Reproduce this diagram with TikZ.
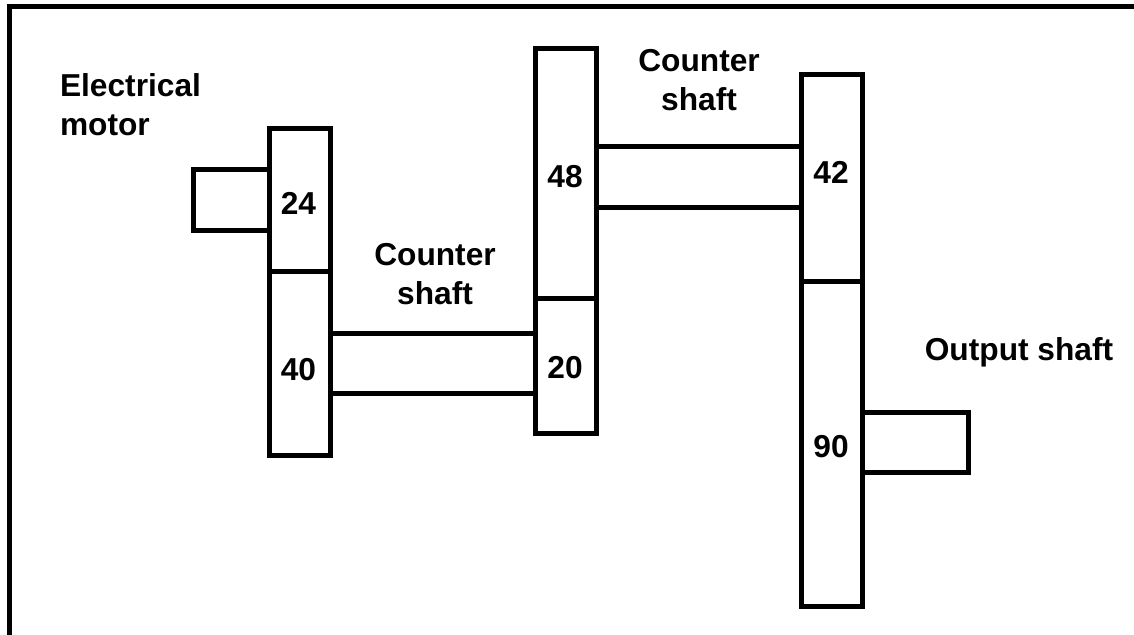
\documentclass[tikz,border=0pt]{standalone}
\usepackage{fontspec}
\setmainfont{Liberation Sans}
\tikzset{
  part/.style={draw=black,line width=5pt,fill=none,line join=miter},
  lab/.style={font=\fontsize{31.7}{39}\selectfont\bfseries,align=center,inner sep=0pt,text=black},
  num/.style={font=\fontsize{31.7}{39}\selectfont\bfseries,inner sep=0pt,text=black}
}
\begin{document}
\begin{tikzpicture}[x=1pt,y=-1pt]
\useasboundingbox (0,0) rectangle (1134,634);
\draw[part] (9.5,640) -- (9.5,4.5);
\draw[part] (7,7) -- (1140,7);
% shafts
\draw[part] (269,169) -- (193,169) -- (193,230) -- (269,230);
\draw[part] (330,333) -- (535,333);
\draw[part] (330,393) -- (535,393);
\draw[part] (596,146) -- (801,146);
\draw[part] (596,207) -- (801,207);
\draw[part] (862,412) -- (968,412) -- (968,472) -- (862,472);
% gears
\draw[part] (269,128) rectangle (330,271);
\draw[part] (269,271) rectangle (330,455);
\draw[part] (535,49) rectangle (596,298);
\draw[part] (535,298) rectangle (596,433);
\draw[part] (801,74) rectangle (862,281);
\draw[part] (801,281) rectangle (862,606);
% labels
\node[num] (g24) at (298.5,203) {24};
\node[num] (g40) at (298.5,370) {40};
\node[num] (g48) at (565,177) {48};
\node[num] (g20) at (565,368) {20};
\node[num] (g42) at (831,172) {42};
\node[num] (g90) at (831,447) {90};
\node[lab,align=left] (em) at (130.5,105) {Electrical\\motor};
\node[lab] (cs1) at (435,274) {Counter\\shaft};
\node[lab] (cs2) at (699,80) {Counter\\shaft};
\node[lab] (os) at (1019,352) {Output shaft};
\end{tikzpicture}
\end{document}
